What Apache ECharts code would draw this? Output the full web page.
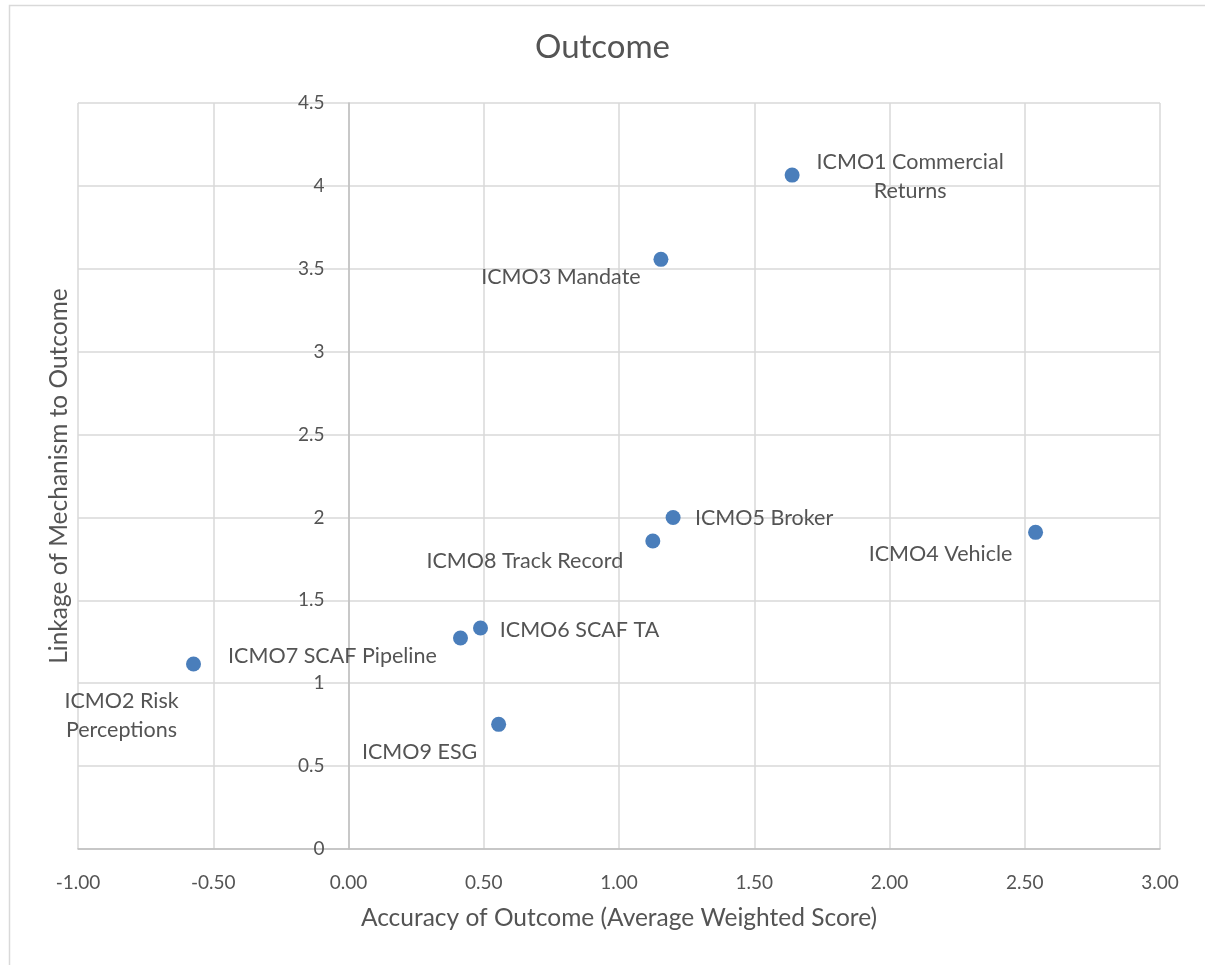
<!DOCTYPE html>
<html>
<head>
<meta charset="utf-8">
<script src="https://cdn.jsdelivr.net/npm/echarts@6/dist/echarts.min.js"></script>
<style>
html,body{margin:0;padding:0;background:#fff;}
#chart{width:1205px;height:965px;}
</style>
</head>
<body>
<div id="chart"></div>
<script>
const names = ['ICMO1 Commercial\nReturns','ICMO3 Mandate','ICMO5 Broker','ICMO8 Track Record','ICMO4 Vehicle','ICMO6 SCAF TA','ICMO7 SCAF Pipeline','ICMO2 Risk\nPerceptions','ICMO9 ESG'];
const xValues = [1.64, 1.155, 1.20, 1.125, 2.54, 0.488, 0.414, -0.573, 0.555];
const yValues = [4.065, 3.557, 2.0, 1.858, 1.91, 1.333, 1.273, 1.116, 0.752];
const xTicks = [-1, -0.5, 0, 0.5, 1, 1.5, 2, 2.5, 3];
const yTicks = [0, 0.5, 1, 1.5, 2, 2.5, 3, 3.5, 4, 4.5];

const labelOffsets = [[118,1],[-100,18],[91,1],[-128,20],[-95,22],[99,2],[-128,18],[-72,52],[-79,28]];

const FONT = 'Lato';
const TXT = '#545454';
const GRID_LEFT = 78, GRID_RIGHT = 45;

const chart = echarts.init(document.getElementById('chart'));
const data = names.map((n,i)=>({
  name: n,
  value: [xValues[i], yValues[i]],
  label: {offset: labelOffsets[i]}
}));

// y axis crosses the x axis at x = 0
const xMin = xTicks[0], xMax = xTicks[xTicks.length-1];
const plotW = 1205 - GRID_LEFT - GRID_RIGHT;
const yAxisShift = plotW * (0 - xMin) / (xMax - xMin);

chart.setOption({
  animation: false,
  backgroundColor: '#fff',
  graphic: [{
    type: 'rect', left: 7, top: 3, shape: {width: 1220, height: 1000},
    style: {fill: 'none', stroke: '#d9d9d9', lineWidth: 1.5}, silent: true
  }],
  title: {
    text: 'Outcome', left: 'center', top: 26,
    textStyle: {fontFamily: FONT, fontSize: 33, fontWeight: 'normal', color: TXT}
  },
  grid: {left: GRID_LEFT, right: GRID_RIGHT, top: 103, bottom: 116, containLabel: false, outerBoundsMode: 'none'},
  xAxis: {
    type: 'value', min: xMin, max: xMax, interval: 0.5,
    name: 'Accuracy of Outcome (Average Weighted Score)',
    nameLocation: 'middle', nameGap: 57,
    nameTextStyle: {fontFamily: FONT, fontSize: 24.5, color: TXT},
    axisLine: {show: true, onZero: false, lineStyle: {color: '#bfbfbf', width: 1.5}},
    axisTick: {show: false},
    axisLabel: {fontFamily: FONT, fontSize: 19, color: TXT, margin: 24,
      formatter: v => v.toFixed(2)},
    splitLine: {show: true, lineStyle: {color: '#d9d9d9', width: 1.5}}
  },
  yAxis: {
    type: 'value', min: yTicks[0], max: yTicks[yTicks.length-1], interval: 0.5,
    offset: -yAxisShift,
    name: 'Linkage of Mechanism to Outcome',
    nameLocation: 'middle', nameRotate: 90, nameGap: 277,
    nameTextStyle: {fontFamily: FONT, fontSize: 24.5, color: TXT},
    axisLine: {show: true, onZero: false, lineStyle: {color: '#bfbfbf', width: 1.5}},
    axisTick: {show: false},
    axisLabel: {fontFamily: FONT, fontSize: 19, color: TXT, margin: 24,
      formatter: v => String(v)},
    splitLine: {show: true, lineStyle: {color: '#d9d9d9', width: 1.5}}
  },
  series: [{
    type: 'scatter',
    symbol: 'circle',
    symbolSize: 15,
    itemStyle: {color: '#4a7ebb', opacity: 1},
    data: data,
    label: {
      show: true, position: 'inside',
      formatter: p => p.name,
      fontFamily: FONT, fontSize: 21.5, color: TXT,
      align: 'center', verticalAlign: 'middle', lineHeight: 29
    }
  }]
});
</script>
</body>
</html>
